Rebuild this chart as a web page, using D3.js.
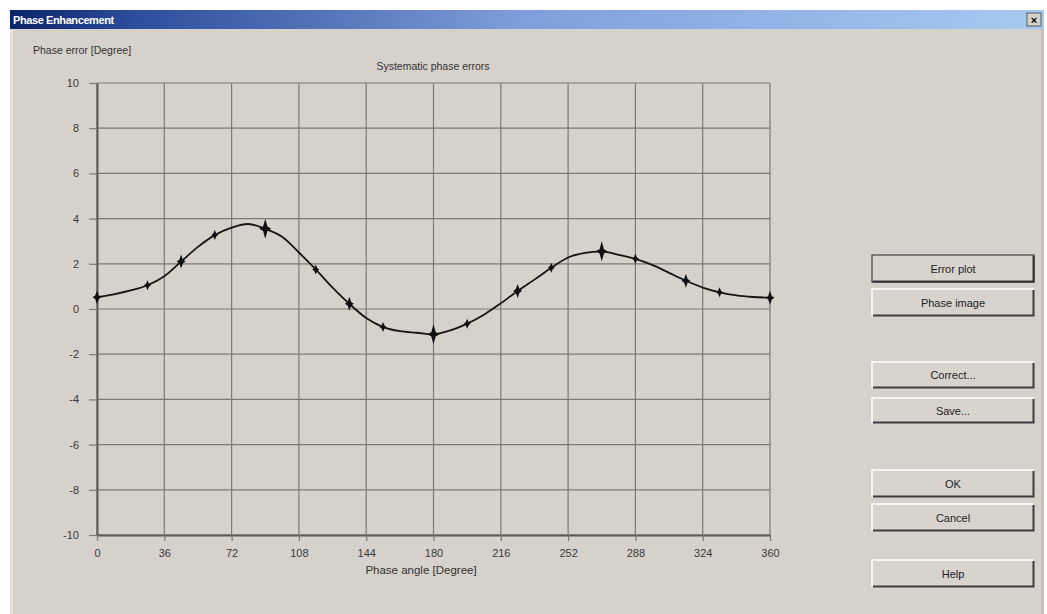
<!DOCTYPE html>
<html>
<head>
<meta charset="utf-8">
<script src="https://cdn.jsdelivr.net/npm/d3@7"></script>
<style>
  html, body { margin: 0; padding: 0; background: #ffffff; }
  svg { display: block; }
  text { font-family: "Liberation Sans", Arial, sans-serif; }
</style>
</head>
<body>
<svg id="chart" width="1047" height="614"></svg>
<script>
// ---- data ----
const angles = [0, 9, 18, 27, 36, 45, 54, 63, 72, 81, 90, 99, 108, 117, 126, 135, 144, 153, 162, 171, 180,
                189, 198, 207, 216, 225, 234, 243, 252, 261, 270, 279, 288, 297, 306, 315, 324, 333, 342, 351, 360];
const phaseErrors = [0.52, 0.65, 0.82, 1.05, 1.45, 2.1, 2.75, 3.27, 3.6, 3.76, 3.55, 3.2, 2.5, 1.75, 0.95, 0.23, -0.4, -0.8, -0.98, -1.05, -1.12,
                     -0.95, -0.65, -0.25, 0.25, 0.8, 1.3, 1.82, 2.28, 2.48, 2.55, 2.4, 2.22, 1.95, 1.6, 1.25, 0.95, 0.74, 0.6, 0.53, 0.5];
const bigMarkerAngles = [90, 180, 270];
const midMarkerAngles = [0, 45, 135, 225, 315, 360];
const smallMarkerAngles = [27, 63, 117, 153, 198, 243, 288, 333];
const xTicks = [0, 36, 72, 108, 144, 180, 216, 252, 288, 324, 360];
const yTicks = [-10, -8, -6, -4, -2, 0, 2, 4, 6, 8, 10];
const windowTitle = "Phase Enhancement";
const chartTitle = "Systematic phase errors";
const yLabel = "Phase error [Degree]";
const xLabel = "Phase angle [Degree]";
const buttonLabels = ["Error plot", "Phase image", "Correct...", "Save...", "OK", "Cancel", "Help"];

// ---- layout ----
const svg = d3.select("#chart");
const W = 1047, H = 614;
const bg = "#d6d1cb";

// dialog
svg.append("rect").attr("x", 10).attr("y", 10).attr("width", 1034).attr("height", H - 10).attr("fill", bg);
svg.append("rect").attr("x", 10).attr("y", 10).attr("width", 3).attr("height", H - 10).attr("fill", "#e4e0da");
svg.append("rect").attr("x", 1041).attr("y", 10).attr("width", 3).attr("height", H - 10).attr("fill", "#c8c3bd");

// title bar
const defs = svg.append("defs");
const grad = defs.append("linearGradient").attr("id", "tb").attr("x1", "0%").attr("x2", "100%");
grad.append("stop").attr("offset", "0%").attr("stop-color", "#0a246a");
grad.append("stop").attr("offset", "12%").attr("stop-color", "#2c4d9a");
grad.append("stop").attr("offset", "50%").attr("stop-color", "#7f9fdc");
grad.append("stop").attr("offset", "100%").attr("stop-color", "#a6caf0");
svg.append("rect").attr("x", 10).attr("y", 10).attr("width", 1034).attr("height", 19).attr("fill", "url(#tb)");
svg.append("text").attr("x", 13).attr("y", 24).attr("fill", "#ffffff").attr("font-weight", "bold")
  .attr("font-size", 11).attr("font-family", "DejaVu Sans Condensed, DejaVu Sans, sans-serif").attr("letter-spacing", -0.4).text(windowTitle);
// close button
const cb = svg.append("g").attr("transform", "translate(1027,13)");
cb.append("rect").attr("width", 14).attr("height", 13).attr("fill", "#d5d0ca").attr("stroke", "#404040").attr("stroke-width", 0.8);
cb.append("text").attr("x", 7).attr("y", 10.5).attr("text-anchor", "middle").attr("font-size", 11).attr("font-weight", "bold").attr("fill", "#000").text("×");

// scales
const x = d3.scaleLinear().domain([0, 360]).range([97, 770]);
const y = d3.scaleLinear().domain([-10, 10]).range([535, 83]);

const gridColor = "#7d7873";
// grid
svg.append("g").selectAll("line.v").data(xTicks).join("line")
  .attr("x1", d => x(d)).attr("x2", d => x(d)).attr("y1", y(10)).attr("y2", y(-10))
  .attr("stroke", gridColor).attr("stroke-width", 1.2);
svg.append("g").selectAll("line.h").data(yTicks).join("line")
  .attr("x1", x(0)).attr("x2", x(360)).attr("y1", d => y(d)).attr("y2", d => y(d))
  .attr("stroke", gridColor).attr("stroke-width", 1.2);

// axes
const plain = d => String(d);
const yAxis = svg.append("g").attr("transform", `translate(${x(0)},0)`)
  .call(d3.axisLeft(y).tickValues(yTicks).tickFormat(plain).tickSizeInner(8).tickSizeOuter(0).tickPadding(10));
const xAxis = svg.append("g").attr("transform", `translate(0,${y(-10)})`)
  .call(d3.axisBottom(x).tickValues(xTicks).tickFormat(plain).tickSizeInner(6).tickSizeOuter(0).tickPadding(8));
[yAxis, xAxis].forEach(g => {
  g.select(".domain").attr("stroke", "#5e5a56").attr("stroke-width", 2);
  g.selectAll(".tick line").attr("stroke", gridColor).attr("stroke-width", 1.2);
  g.selectAll(".tick text").attr("fill", "#3a3a3a").attr("font-size", 11)
    .attr("font-family", "Liberation Sans Narrow, Liberation Sans, Arial, sans-serif");
});

// labels
svg.append("text").attr("x", 33).attr("y", 54).attr("font-size", 10.5).attr("fill", "#333")
  .attr("font-family", "Liberation Sans Narrow, Liberation Sans, sans-serif").text(yLabel);
svg.append("text").attr("x", 433).attr("y", 70).attr("text-anchor", "middle").attr("font-size", 10.5).attr("fill", "#333")
  .attr("font-family", "Liberation Sans Narrow, Liberation Sans, sans-serif").text(chartTitle);
svg.append("text").attr("x", 421).attr("y", 574).attr("text-anchor", "middle").attr("font-size", 11.5).attr("fill", "#333")
  .attr("font-family", "Liberation Sans Narrow, Liberation Sans, sans-serif").text(xLabel);

// curve
const pts = angles.map((a, i) => [a, phaseErrors[i]]);
const line = d3.line().x(d => x(d[0])).y(d => y(d[1])).curve(d3.curveCatmullRom.alpha(0.5));
svg.append("path").datum(pts).attr("d", line).attr("fill", "none")
  .attr("stroke", "#151515").attr("stroke-width", 1.8);

// markers (4-point stars)
function star(v, h, w) {
  return `M0,${-v}L${w},${-w}L${h},0L${w},${w}L0,${v}L${-w},${w}L${-h},0L${-w},${-w}Z`;
}
const valueAt = a => phaseErrors[angles.indexOf(a)];
function drawMarkers(list, v, h, w) {
  svg.append("g").selectAll("path").data(list).join("path")
    .attr("transform", a => `translate(${x(a)},${y(valueAt(a))})`)
    .attr("d", star(v, h, w)).attr("fill", "#111");
}
drawMarkers(bigMarkerAngles, 10, 6, 2.2);
drawMarkers(midMarkerAngles, 7, 4.5, 1.8);
drawMarkers(smallMarkerAngles, 5, 3.5, 1.5);

// buttons
const buttonBoxes = [[255, 27], [289, 27], [362, 26], [398, 25], [470, 27], [504, 27], [560, 27]];
buttonLabels.forEach((lab, i) => {
  const [by, bh] = buttonBoxes[i];
  const g = svg.append("g").attr("transform", `translate(872,${by})`);
  const bw = 162;
  g.append("rect").attr("width", bw).attr("height", bh).attr("fill", "#d8d3cd");
  g.append("path").attr("d", `M0,${bh}V0H${bw}`).attr("fill", "none").attr("stroke", "#ffffff").attr("stroke-width", 1.5);
  g.append("path").attr("d", `M1,${bh - 0.5}H${bw - 0.5}V1`).attr("fill", "none").attr("stroke", "#3c3c3c").attr("stroke-width", 2);
  if (i === 0) {
    g.append("rect").attr("x", 0).attr("y", 0).attr("width", bw).attr("height", bh).attr("fill", "none")
      .attr("stroke", "#2a2a2a").attr("stroke-width", 1.2);
  }
  g.append("text").attr("x", bw / 2).attr("y", bh / 2 + 4).attr("text-anchor", "middle").attr("font-size", 11)
    .attr("fill", "#222").attr("font-family", "Liberation Sans Narrow, Liberation Sans, sans-serif").text(lab);
});
</script>
</body>
</html>
